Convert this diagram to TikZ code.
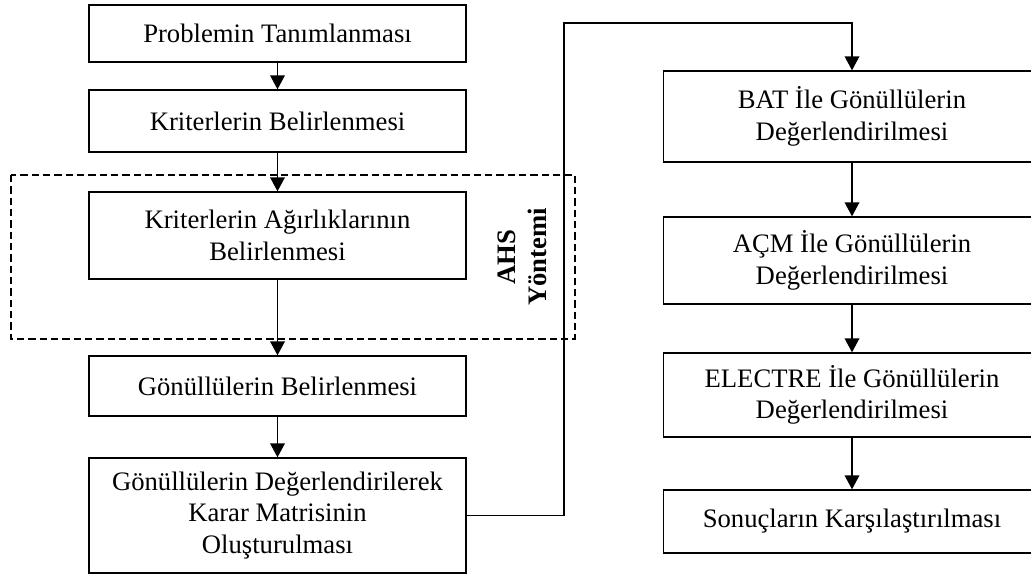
\documentclass[tikz,border=0pt]{standalone}
\usepackage{fontspec}
\setmainfont{Liberation Serif}
\usetikzlibrary{arrows.meta}

\tikzset{
  step_box/.style={draw, line width=1pt, align=center, inner sep=0pt, minimum width=282.75pt},
  flow_arrow/.style={line width=1pt, -{Triangle[length=10.5pt,width=11pt]}},
}

\begin{document}
\begin{tikzpicture}[
  x=0.75pt, y=-0.75pt,
  every node/.style={color=black, font=\fontsize{20pt}{23.5pt}\selectfont},
  dashed line/.style={dashed, dash pattern=on 5.5pt off 3pt, line width=1pt},
  ]
  \useasboundingbox (0,0) rectangle (1031,575);
  \clip (0,0) rectangle (1031,575);

  % left column
  \node[step_box, minimum height=42.75pt] (prob) at (277.5,33.5) {Problemin Tanımlanması};
  \node[step_box, minimum height=46.5pt] (krit) at (277.5,121) {Kriterlerin Belirlenmesi};
  \node[step_box, minimum height=65.25pt] (agirlik) at (277.5,235.5) {Kriterlerin Ağırlıklarının\\Belirlenmesi};
  \node[step_box, minimum height=45pt] (gonullu) at (277.5,386) {Gönüllülerin Belirlenmesi};
  \node[step_box, minimum height=86.25pt] (karar) at (277.5,515.5) {Gönüllülerin Değerlendirilerek\\Karar Matrisinin\\Oluşturulması};

  % right column
  \node[step_box, minimum height=68.25pt] (bat) at (852,116.5) {BAT İle Gönüllülerin\\Değerlendirilmesi};
  \node[step_box, minimum height=65.25pt] (acm) at (852,260.5) {AÇM İle Gönüllülerin\\Değerlendirilmesi};
  \node[step_box, minimum height=63pt] (electre) at (852,395) {ELECTRE İle Gönüllülerin\\Değerlendirilmesi};
  \node[step_box, minimum height=47.25pt] (sonuc) at (852,521.5) {Sonuçların Karşılaştırılması};

  % AHS frame
  \draw[dashed line] (11,175) rectangle (575,339);
  \node[rotate=90, align=center, font=\fontsize{20pt}{23.5pt}\selectfont\bfseries] (ahs) at (522.5,257) {AHS\\Yöntemi};

  \foreach \a/\b in {prob/krit, krit/agirlik, agirlik/gonullu, gonullu/karar, bat/acm, acm/electre, electre/sonuc}{
    \draw[flow_arrow] (\a) -- (\b);
  }

  \coordinate (turn) at (564,23);
  \draw[flow_arrow] (karar.east) -| (turn) -| (bat.north);

\end{tikzpicture}
\end{document}
